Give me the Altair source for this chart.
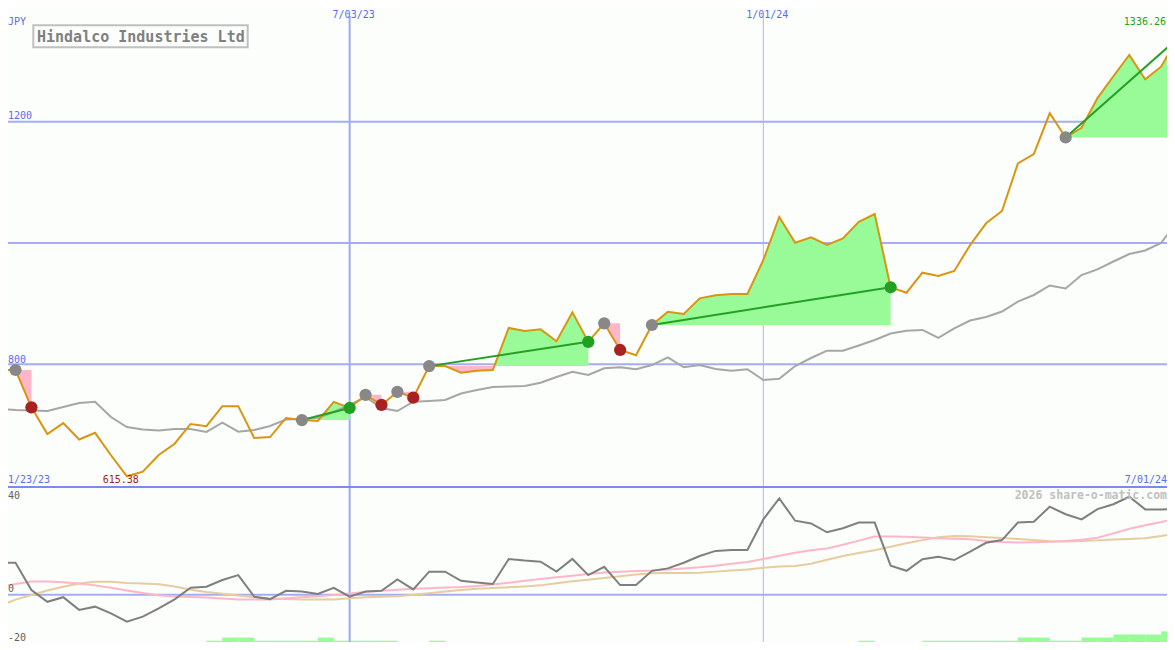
import altair as alt
import pandas as pd

# ---------------- data ----------------
week_start = "2023-01-30"
n_weeks = 75

price = [790.6, 790.6, 729, 685, 703, 676, 687, 650, 615.38, 623,
         650.5, 669, 701.6, 698, 731, 731, 678.5, 680, 711.5, 708,
         706.6, 738, 728, 749.6, 733, 754.6, 745, 797, 797, 786,
         789.5, 790.6, 860, 855, 857.7, 838, 885.7, 837, 867.6, 823.6,
         815, 864.8, 886.7, 883, 908.8, 914, 916, 916, 972, 1043,
         1000.5, 1009.4, 996.7, 1007.7, 1035, 1047.8, 927, 918, 951, 945.6,
         954, 996.7, 1032.5, 1052.8, 1131.4, 1146.7, 1213.9, 1174, 1190, 1239,
         1275, 1310, 1270, 1290.7, 1336.26]

moving_avg = [726.3, 724.6, 723.8, 723, 729.6, 736.2, 738.3, 713, 696.6, 692.5,
              690.8, 693.3, 693.3, 688.4, 703.7, 688.9, 691.7, 698.3, 709, 709.8,
              711.5, 721.4, 732.9, 746, 728, 723, 738.3, 739.5, 741.1, 751.9,
              757.6, 762.6, 763.4, 764.2, 769.7, 779, 787.8, 782.4, 793.4, 795,
              791.8, 798.8, 811.5, 795, 798.8, 792.3, 789.4, 791.8, 774.1, 776.3,
              797.2, 810.4, 822.4, 822.4, 831, 840, 850.8, 855.4, 856.6, 843.4,
              859.4, 872.2, 878, 887, 903.5, 914.3, 930, 925, 947.2, 956.6,
              969.5, 981.9, 987.6, 1000, 1035]

oscillator = [11.9, 11.9, 1.8, -2.6, -0.9, -5.6, -4.4, -6.9, -10.0, -8.1,
              -5.0, -1.7, 2.6, 3.0, 5.5, 7.3, -0.7, -1.6, 1.5, 1.2,
              0.3, 2.6, -0.7, 1.2, 1.5, 5.7, 2.0, 8.6, 8.6, 5.2,
              4.6, 4.0, 13.3, 12.7, 12.3, 8.6, 13.3, 7.3, 10.4, 3.6,
              3.6, 8.9, 9.8, 11.9, 14.4, 16.3, 16.6, 16.6, 28.0, 35.8,
              27.5, 26.5, 23.2, 24.7, 26.8, 26.8, 10.8, 8.9, 13.2, 14.1,
              12.9, 16.0, 19.3, 20.3, 26.8, 27.1, 32.7, 29.9, 28.0, 31.8,
              33.6, 36.4, 31.7, 31.7, 31.8]

signal_pink = [2.8, 4.0, 4.9, 4.9, 4.7, 4.2, 3.5, 2.6, 1.6, 0.7,
               -0.2, -0.6, -0.8, -1.0, -1.4, -1.7, -1.7, -1.7, -1.3, -0.9,
               -0.5, -0.1, 0.5, 1.0, 1.5, 1.9, 2.2, 2.4, 2.7, 2.9,
               3.3, 3.8, 4.5, 5.2, 5.9, 6.5, 7.1, 7.7, 8.3, 8.6,
               8.8, 9.0, 9.4, 9.8, 10.2, 10.8, 11.5, 12.2, 13.3, 14.5,
               15.6, 16.5, 17.2, 18.6, 20.1, 21.6, 21.6, 21.5, 21.3, 21.0,
               20.8, 20.6, 20.0, 19.6, 19.4, 19.5, 19.7, 20.0, 20.4, 21.2,
               22.8, 24.5, 25.8, 27.0, 28.4]

signal_tan = [-4.2, -1.8, -0.1, 1.6, 3.0, 4.2, 4.8, 4.8, 4.4, 4.2,
              3.9, 3.1, 1.9, 1.0, 0.4, -0.3, -0.9, -1.35, -1.6, -1.7,
              -1.7, -1.7, -1.3, -0.95, -0.7, -0.5, 0.0, 0.6, 1.2, 1.8,
              2.2, 2.5, 2.8, 3.1, 3.5, 4.3, 5.0, 5.6, 6.2, 6.9,
              7.5, 8.0, 8.1, 8.1, 8.2, 8.6, 9.0, 9.4, 10.0, 10.5,
              10.7, 11.5, 13.0, 14.4, 15.5, 16.5, 17.8, 19.1, 20.3, 21.4,
              21.8, 21.7, 21.4, 21.1, 20.7, 20.3, 19.9, 19.8, 20.0, 20.2,
              20.5, 20.7, 21.0, 21.8, 22.8]

volume = [1, 0, 0, 0, 0, 0, 0, 0, 0, 0,
          1, 2, 2, 3, 4, 4, 3, 3, 3, 3,
          4, 3, 3, 3, 3, 2, 2, 3, 2, 2,
          1, 2, 1, 1, 1, 1, 0, 1, 0, 0,
          0, 0, 0, 0, 0, 1, 1, 2, 2, 2,
          1, 0, 1, 2, 3, 2, 2, 2, 3, 3,
          3, 3, 3, 3, 4, 4, 3, 3, 4, 4,
          5, 5, 5, 6]

grid_levels = [800, 1000, 1200]
price_labels = ["1200", "800"]
top_dates = ["2023-07-03", "2024-01-01"]
top_date_labels = ["7/03/23", "1/01/24"]

trade_entry = [1, 19, 23, 25, 27, 38, 41, 67]
trade_exit = [2, 22, 24, 26, 37, 39, 56, 74]
trade_result = ["loss", "win", "loss", "loss", "win", "loss", "win", "open"]

# ---------------- styling ----------------
FONT = "DejaVu Sans Mono"
BG = "#fbfefb"
GRID = "#a4aef0"
SEP = "#7c8aee"
BLUE_TXT = "#5a6cf0"
ORANGE = "#da9510"
MA_GRAY = "#a6a6a6"
OSC_GRAY = "#7f7f7f"
PINK = "#ffb6c8"
TAN = "#e6cc9e"
AREA_G = "#98fb98"
LINE_G = "#24a024"

# ---------------- geometry of the scales ----------------
# plot area covers reference pixels x 8..1167, y 8..642
W, H = 1159, 634
t0 = pd.Timestamp(week_start)
DAY = 86400000
t0_ms = t0.value // 10**6
PX_PER_DAY = 2.273
X0 = -0.4  # reference x of first week
XDOM = [t0_ms + (8 - X0) / PX_PER_DAY * DAY, t0_ms + (8 + W - X0) / PX_PER_DAY * DAY]
PRICE_DOM = [342.1, 1387.5]
IND_DOM = [-17.52, 217.8]
VOL_DOM = [2.58, 207.1]   # volume bars stand on the bottom of the reference image

dates = pd.date_range(week_start, periods=n_weeks, freq="7D")
t_ms = [d.value // 10**6 for d in dates]

main = pd.DataFrame({"t": t_ms, "price": price, "ma": moving_avg,
                     "osc": oscillator, "pink": signal_pink, "tan": signal_tan})
vol = pd.DataFrame({"t": t_ms[:-1], "t2": t_ms[1:], "v": volume})
vol = vol[vol.v > 0]


def X(field="t"):
    return alt.X(f"{field}:T", scale=alt.Scale(domain=XDOM, nice=False), axis=None)


def ys(field, dom):
    return alt.Y(f"{field}:Q", scale=alt.Scale(domain=dom, zero=False, nice=False), axis=None)


# trade areas & lines
area_rows, line_rows, dot_rows = [], [], []
for k, (a, b, r) in enumerate(zip(trade_entry, trade_exit, trade_result)):
    e = price[a]
    for j in range(a, b + 1):
        if j > a:
            p0, p1 = price[j - 1], price[j]
            if (p0 - e) * (p1 - e) < 0:
                f = (e - p0) / (p1 - p0)
                area_rows.append({"tid": k, "t": t_ms[j - 1] + f * (t_ms[j] - t_ms[j - 1]), "p": e, "e": e})
        area_rows.append({"tid": k, "t": t_ms[j], "p": price[j], "e": e})
    if r in ("win", "open"):
        line_rows.append({"tid": k, "t": t_ms[a], "p": e})
        line_rows.append({"tid": k, "t": t_ms[b], "p": price[b]})
    dot_rows.append({"t": t_ms[a], "p": e, "kind": "entry"})
    if r != "open":
        dot_rows.append({"t": t_ms[b], "p": price[b], "kind": r})
areas = pd.DataFrame(area_rows)
areas["hi"] = areas[["p", "e"]].max(axis=1)
areas["lo"] = areas[["p", "e"]].min(axis=1)
tlines = pd.DataFrame(line_rows)
dots = pd.DataFrame(dot_rows)

ONE = pd.DataFrame({"a": [0]})

layers = []
# horizontal grid lines (price panel)
layers.append(alt.Chart(pd.DataFrame({"lv": grid_levels})).mark_rule(color=GRID, strokeWidth=2)
              .encode(y=ys("lv", PRICE_DOM)))
# volume bars
layers.append(alt.Chart(vol).mark_rect(color=AREA_G)
              .encode(x=X("t"), x2="t2:T", y=ys("v", VOL_DOM), y2=alt.Y2(datum=0)))
# vertical date lines
vd = pd.DataFrame({"t": [pd.Timestamp(d).value // 10**6 for d in top_dates], "lab": top_date_labels})
layers.append(alt.Chart(vd.iloc[[0]]).mark_rule(color="#9eaaf2", strokeWidth=2)
              .encode(x=X("t"), y=alt.value(8), y2=alt.value(H)))
layers.append(alt.Chart(vd.iloc[[1]]).mark_rule(color="#b4bae6", strokeWidth=1)
              .encode(x=X("t"), y=alt.value(8), y2=alt.value(H)))
# indicator panel: zero line and panel separator
layers.append(alt.Chart(pd.DataFrame({"v": [0]})).mark_rule(color=GRID, strokeWidth=2)
              .encode(y=ys("v", IND_DOM)))
layers.append(alt.Chart(pd.DataFrame({"v": [40]})).mark_rule(color=SEP, strokeWidth=2)
              .encode(y=ys("v", IND_DOM)))
# indicator lines
layers.append(alt.Chart(main).mark_line(color=TAN, strokeWidth=2).encode(x=X(), y=ys("tan", IND_DOM)))
layers.append(alt.Chart(main).mark_line(color=PINK, strokeWidth=2).encode(x=X(), y=ys("pink", IND_DOM)))
layers.append(alt.Chart(main).mark_line(color=OSC_GRAY, strokeWidth=2).encode(x=X(), y=ys("osc", IND_DOM)))
# trade areas
layers.append(alt.Chart(areas).mark_area(color=AREA_G, opacity=1)
              .encode(x=X(), y=ys("hi", PRICE_DOM), y2="e:Q", detail="tid:N"))
layers.append(alt.Chart(areas).mark_area(color=PINK, opacity=1)
              .encode(x=X(), y=ys("lo", PRICE_DOM), y2="e:Q", detail="tid:N"))
# moving average and price
layers.append(alt.Chart(main).mark_line(color=MA_GRAY, strokeWidth=2).encode(x=X(), y=ys("ma", PRICE_DOM)))
layers.append(alt.Chart(main).mark_line(color=ORANGE, strokeWidth=2).encode(x=X(), y=ys("price", PRICE_DOM)))
# winning trade lines
layers.append(alt.Chart(tlines).mark_line(color=LINE_G, strokeWidth=2)
              .encode(x=X(), y=ys("p", PRICE_DOM), detail="tid:N"))
# trade dots
layers.append(alt.Chart(dots).mark_circle(size=150, opacity=1)
              .encode(x=X(), y=ys("p", PRICE_DOM),
                      color=alt.Color("kind:N", legend=None,
                                      scale=alt.Scale(domain=["entry", "loss", "win"],
                                                      range=["#888888", "#a82222", "#22a022"]))))


def label(text, x, y, color, size=10, align="left", weight="normal"):
    return alt.Chart(ONE).mark_text(text=text, align=align, baseline="alphabetic", font=FONT,
                                    fontSize=size, color=color, fontWeight=weight
                                    ).encode(x=alt.value(x), y=alt.value(y))


# date labels at top
layers.append(alt.Chart(vd).mark_text(align="center", baseline="alphabetic", dx=4, font=FONT,
                                      fontSize=10, color=BLUE_TXT)
              .encode(x=X("t"), y=alt.value(9.5), text="lab:N"))
layers += [
    label("JPY", 0, 17, BLUE_TXT),
    label(price_labels[0], 0, 111.3, BLUE_TXT),
    label(price_labels[1], 0, 355, BLUE_TXT),
    label("1336.26", 1158, 17, "#22a022", align="right"),
    label("1/23/23", 0, 474.7, BLUE_TXT),
    label("615.38", 94.7, 474.7, "#a02020"),
    label("7/01/24", W, 474.7, BLUE_TXT, align="right"),
    label("2026 share-o-matic.com", W, 491, "#c0c0c0", size=11.5, align="right", weight="bold"),
    label("40", 0, 491, "#606060"),
    label("0", 0, 584, "#606060"),
    label("-20", 0, 633, "#606060"),
]
# title box
layers.append(alt.Chart(ONE).mark_rect(fill=BG, stroke="#c0c0c0", strokeWidth=2)
              .encode(x=alt.value(25.3), x2=alt.value(239.7), y=alt.value(17.3), y2=alt.value(39.3)))
layers.append(label("Hindalco Industries Ltd", 29, 33.7, "#808080", size=15, weight="bold"))

chart = (alt.layer(*layers)
         .resolve_scale(y="independent")
         .properties(width=W, height=H, background=BG, padding=0,
                     autosize=alt.AutoSizeParams(type="none"))
         .configure_view(stroke=None))

chart.save("out.html", embed_options={"renderer": "svg", "actions": False})
